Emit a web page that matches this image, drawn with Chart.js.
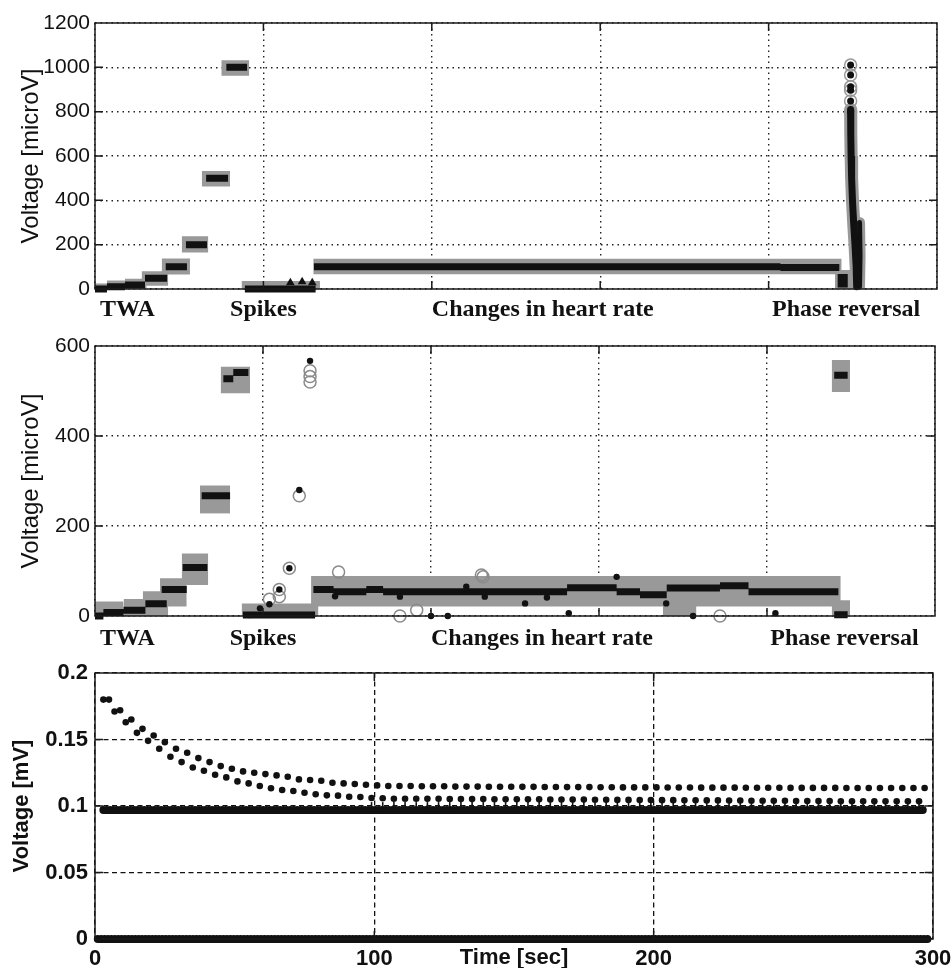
<!DOCTYPE html>
<html>
<head>
<meta charset="utf-8">
<script src="https://cdn.jsdelivr.net/npm/chart.js@4.4.1/dist/chart.umd.min.js"></script>
<style>
  html, body { margin: 0; padding: 0; background: #fff; }
  #wrap { position: relative; width: 952px; height: 968px; }
  .panel { position: absolute; left: 0; width: 952px; }
</style>
</head>
<body>
<div id="wrap">
  <div class="panel" style="top:0;height:325px"><canvas id="c1" width="952" height="325"></canvas></div>
  <div class="panel" style="top:325px;height:325px"><canvas id="c2" width="952" height="325"></canvas></div>
  <div class="panel" style="top:650px;height:318px"><canvas id="c3" width="952" height="318"></canvas></div>
</div>
<script>
// Section names under the two upper panels (x = record position, 5 blocks of 100)
const sectionLabels = ['TWA', 'Spikes', 'Changes in heart rate', 'Phase reversal'];

// ---- Panel 1: TWA estimate (microV). black = estimate, grey = spread
const p1EstStart = [0, 7.1, 17.8, 29.7, 42, 54, 66, 78, 89, 130, 407, 441, 441];
const p1EstEnd   = [7.1, 17.8, 29.7, 42.8, 54.6, 66.5, 79, 90.3, 131, 407, 442, 447, 447];
const p1EstLevel = [0, 10, 18, 48, 100, 200, 500, 1000, 0, 100, 97, 22, 52];

const p1SpreadStart = [0, 7, 17.8, 27.7, 39.6, 51.5, 63.4, 75, 87, 129.6, 439.4];
const p1SpreadEnd   = [7.1, 17.8, 30.7, 43.5, 56.4, 67.3, 80.2, 91.6, 133.6, 443.4, 450];
const p1SpreadLow   = [-15, -12, -5, 15, 65, 165, 462, 962, -12, 66, -5];
const p1SpreadHigh  = [25, 38, 46, 80, 138, 238, 532, 1032, 36, 136, 86];

// phase reversal streak in panel 1
const p1StreakX = [448.7, 448.8, 449, 449.3, 449.8, 450.5, 451.3, 452, 452.3];
const p1StreakY = [810, 700, 600, 500, 400, 300, 200, 100, 10];
const p1Streak2X = [454, 454.3, 454];
const p1Streak2Y = [300, 150, 10];
const p1PeakX = [448.7, 448.7, 448.7, 448.7, 448.7, 448.7];
const p1PeakY = [1010, 965, 912, 897, 848, 800];
const p1BumpX = [116, 123, 129];
const p1BumpY = [28, 33, 28];

// ---- Panel 2: second estimator (microV)
const p2EstStart = [0, 5, 17, 30, 39.7, 52.2, 63.5, 76.4, 82.3, 88, 130, 142, 161.5, 171.5, 281, 310.5, 324.4, 340.3, 372, 389, 440, 440];
const p2EstEnd   = [5, 17, 30, 42.7, 54.6, 66.9, 80.4, 82.3, 91.3, 131, 142, 161.5, 171.5, 281, 310.5, 324.4, 340.3, 372, 389, 442.5, 448, 448];
const p2EstLevel = [0, 8, 13, 27, 59, 108, 267, 527, 541, 2, 59, 54, 59, 54, 63, 54, 47, 62, 67, 54, 3, 535];

const p2SpreadStart = [0, 17, 28.4, 38.7, 51.6, 62.5, 74.8, 87.3, 128.6, 338, 438.5, 438.5];
const p2SpreadEnd   = [17, 30.8, 43.6, 54.6, 67.4, 80.4, 92.3, 133, 443.9, 358, 449.4, 449.4];
const p2SpreadLow   = [-5, -5, 0, 21, 69, 228, 495, -9, 21, -5, -9, 498];
const p2SpreadHigh  = [32, 38, 55, 84, 139, 290, 554, 28, 89, 30, 35, 569];

const p2OutlierX = [92, 98.2, 103.8, 109.7, 115.7, 121.6, 128, 142.9, 181.5, 200, 210, 221, 232, 256, 269, 282, 310.5, 340, 356, 405];
const p2OutlierY = [2, 17, 26, 59, 106, 280, 567, 44, 43, 0, 0, 65, 43, 28, 41, 6, 87, 28, 0, 6];
const p2RingX = [103.8, 109.7, 109.7, 115.7, 121.6, 128, 128, 128, 145, 181.5, 191.5, 230, 231, 372];
const p2RingY = [37, 59, 43, 106, 267, 545, 532, 520, 98, 0, 13, 91, 87, 0];

// ---- Panel 3: voltage (mV) vs time (sec)
const timeStep = 4;
const seriesAFirst = 5;
const seriesA = [0.180, 0.172, 0.165, 0.158, 0.153, 0.148, 0.143, 0.140, 0.136, 0.133, 0.130, 0.128,
  0.126, 0.125, 0.124, 0.123, 0.122, 0.120, 0.1195, 0.119, 0.1175, 0.117, 0.1165, 0.116, 0.1155, 0.115,
  0.115, 0.115, 0.1148, 0.1148, 0.1148, 0.1146, 0.1146, 0.1146, 0.1145, 0.1145, 0.1145, 0.1144,
  0.1144, 0.1143, 0.1143, 0.1142, 0.1142, 0.1142, 0.1141, 0.1141, 0.114, 0.114, 0.114, 0.114,
  0.1139, 0.1139, 0.1139, 0.1138, 0.1138, 0.1138, 0.1138, 0.1137, 0.1137, 0.1137, 0.1137, 0.1136,
  0.1136, 0.1136, 0.1136, 0.1136, 0.1135, 0.1135, 0.1135, 0.1135, 0.1135, 0.1135, 0.1135, 0.1135];
const seriesBFirst = 3;
const seriesB = [0.180, 0.171, 0.163, 0.155, 0.149, 0.143, 0.137, 0.133, 0.129, 0.1265, 0.1235, 0.1215,
  0.1185, 0.117, 0.115, 0.1133, 0.112, 0.1113, 0.110, 0.1088, 0.108, 0.1078, 0.107, 0.1068, 0.106, 0.1058, 0.1055,
  0.1055, 0.1055, 0.1054, 0.1054, 0.1053, 0.1053, 0.1052, 0.1052, 0.1051, 0.1051, 0.105, 0.105,
  0.105, 0.1049, 0.1049, 0.1048, 0.1048, 0.1047, 0.1047, 0.1046, 0.1046, 0.1045, 0.1045, 0.1044,
  0.1044, 0.1043, 0.1043, 0.1042, 0.1042, 0.1041, 0.1041, 0.104, 0.104, 0.1039, 0.1039, 0.1038,
  0.1038, 0.1037, 0.1037, 0.1036, 0.1036, 0.1036, 0.1035, 0.1035, 0.1035, 0.1035, 0.1035];
// short marks just above the 0.097 row, under the B dots from ~100 s on
const stemLevel = 0.1003;
const stemFromIndex = 24;
const flatRowLevels = [0, 0.097];
const flatRowStart = [1, 3];
const flatRowEnd = [298, 297];

const GREY = '#999999';
const INK = '#111111';
Chart.defaults.font.family = 'Liberation Sans';
Chart.defaults.color = INK;

function segmentData(starts, ends, levels) {
  const data = [];
  starts.forEach((s, i) => {
    data.push({ x: s, y: levels[i] }, { x: ends[i], y: levels[i] }, { x: ends[i], y: null });
  });
  return data;
}

function pairs(xs, ys) {
  return xs.map((x, i) => ({ x, y: ys[i] }));
}

function spreadDatasets(starts, ends, lows, highs) {
  return starts.map((s, i) => ({
    data: [{ x: s, y: highs[i] }, { x: ends[i], y: highs[i] }],
    fill: { value: lows[i] },
    backgroundColor: GREY,
    borderWidth: 0,
    pointRadius: 0,
    order: 3
  }));
}

// box around the plot + inward tick marks
const framePlugin = {
  id: 'frame',
  afterDraw(chart) {
    const { ctx, chartArea: a, scales } = chart;
    ctx.save();
    ctx.setLineDash([]);
    ctx.strokeStyle = '#1a1a1a';
    ctx.lineWidth = 1.5;
    ctx.strokeRect(a.left, a.top, a.right - a.left, a.bottom - a.top);
    const len = 8;
    ctx.beginPath();
    scales.y.ticks.forEach(t => {
      const py = scales.y.getPixelForValue(t.value);
      if (py <= a.top + 1 || py >= a.bottom - 1) return;
      ctx.moveTo(a.left, py); ctx.lineTo(a.left + len, py);
      ctx.moveTo(a.right, py); ctx.lineTo(a.right - len, py);
    });
    scales.x.ticks.forEach(t => {
      const px = scales.x.getPixelForValue(t.value);
      if (px <= a.left + 1 || px >= a.right - 1) return;
      ctx.moveTo(px, a.top); ctx.lineTo(px, a.top + len);
      ctx.moveTo(px, a.bottom); ctx.lineTo(px, a.bottom - len);
    });
    ctx.stroke();
    ctx.restore();
  }
};

// section names under the upper panels
const sectionPlugin = {
  id: 'sections',
  afterDraw(chart, args, opts) {
    if (!opts.labels) return;
    const { ctx, chartArea: a, scales } = chart;
    const anchors = [[3, 'left'], [100, 'center'], [200, 'left'], [402, 'left']];
    ctx.save();
    ctx.fillStyle = INK;
    ctx.font = 'bold 24px "Liberation Serif"';
    ctx.textBaseline = 'alphabetic';
    opts.labels.forEach((txt, i) => {
      ctx.textAlign = anchors[i][1];
      ctx.fillText(txt, scales.x.getPixelForValue(anchors[i][0]), a.bottom + opts.offset);
    });
    ctx.restore();
  }
};

function upperOptions(yMax, pad, labelOffset) {
  return {
    responsive: false,
    animation: false,
    events: [],
    devicePixelRatio: 1,
    layout: { padding: pad },
    plugins: {
      legend: { display: false },
      tooltip: { enabled: false },
      sections: { labels: sectionLabels, offset: labelOffset }
    },
    scales: {
      x: {
        type: 'linear', min: 0, max: 500,
        ticks: { stepSize: 100, display: false },
        grid: { color: '#222', lineWidth: 1.4, drawTicks: false },
        border: { display: false, dash: [1.5, 4] }
      },
      y: {
        min: 0, max: yMax,
        afterFit: s => { s.width = 95; },
        ticks: { stepSize: 200, padding: 5, font: { size: 21 }, color: INK, callback: v => String(v) },
        grid: { color: '#222', lineWidth: 1.4, drawTicks: false },
        border: { display: false, dash: [1.5, 4] },
        title: { display: true, text: 'Voltage [microV]', font: { size: 24 }, color: INK, padding: { top: 17, bottom: 0 } }
      }
    }
  };
}

function estimateDataset(starts, ends, levels, width) {
  return {
    data: segmentData(starts, ends, levels),
    borderColor: INK, borderWidth: width, borderCapStyle: 'butt',
    pointRadius: 0, spanGaps: false, clip: 8, order: 1
  };
}

// panel 1
new Chart(document.getElementById('c1'), {
  type: 'line',
  data: {
    datasets: [
      ...spreadDatasets(p1SpreadStart, p1SpreadEnd, p1SpreadLow, p1SpreadHigh),
      estimateDataset(p1EstStart, p1EstEnd, p1EstLevel, 7),
      { data: pairs(p1StreakX, p1StreakY), borderColor: GREY, borderWidth: 13, borderCapStyle: 'round', pointRadius: 0, order: 3 },
      { data: pairs(p1Streak2X, p1Streak2Y), borderColor: GREY, borderWidth: 11, borderCapStyle: 'round', pointRadius: 0, order: 3 },
      { data: pairs(p1StreakX, p1StreakY), borderColor: INK, borderWidth: 7, borderCapStyle: 'round', pointRadius: 0, clip: 6, order: 1 },
      { data: pairs(p1Streak2X, p1Streak2Y), borderColor: INK, borderWidth: 5, borderCapStyle: 'round', pointRadius: 0, clip: 6, order: 1 },
      { data: pairs(p1PeakX, p1PeakY), showLine: false, pointRadius: 6, pointBorderWidth: 1.5,
        pointBorderColor: GREY, pointBackgroundColor: 'rgba(0,0,0,0)', order: 2 },
      { data: pairs(p1PeakX, p1PeakY), showLine: false, pointRadius: 3.5, pointBorderWidth: 0,
        pointBackgroundColor: INK, order: 0 },
      { data: pairs(p1BumpX, p1BumpY), showLine: false, pointStyle: 'triangle', pointRadius: 5,
        pointBorderWidth: 0, pointBackgroundColor: INK, order: 0 }
    ]
  },
  options: upperOptions(1200, { top: 23, bottom: 36, left: 0, right: 15 }, 27),
  plugins: [framePlugin, sectionPlugin]
});

// panel 2
new Chart(document.getElementById('c2'), {
  type: 'line',
  data: {
    datasets: [
      ...spreadDatasets(p2SpreadStart, p2SpreadEnd, p2SpreadLow, p2SpreadHigh),
      estimateDataset(p2EstStart, p2EstEnd, p2EstLevel, 7),
      { data: pairs(p2RingX, p2RingY), showLine: false, pointRadius: 6, pointBorderWidth: 1.5,
        pointBorderColor: '#8a8a8a', pointBackgroundColor: 'rgba(0,0,0,0)', clip: 8, order: 2 },
      { data: pairs(p2OutlierX, p2OutlierY), showLine: false, pointRadius: 3.2, pointBorderWidth: 0,
        pointBackgroundColor: INK, clip: 8, order: 0 }
    ]
  },
  options: upperOptions(600, { top: 21, bottom: 34, left: 0, right: 17 }, 29),
  plugins: [framePlugin, sectionPlugin]
});

// panel 3
const boldTick = { size: 22, weight: 'bold' };
new Chart(document.getElementById('c3'), {
  type: 'line',
  data: {
    datasets: [
      ...flatRowLevels.map((lvl, i) => ({
        data: [{ x: flatRowStart[i], y: lvl }, { x: flatRowEnd[i], y: lvl }],
        borderColor: INK, borderWidth: 8, borderDash: [0, 3.4], borderCapStyle: 'round',
        pointRadius: 0, clip: 8, order: 1
      })),
      { data: seriesA.map((v, i) => ({ x: seriesAFirst + i * timeStep, y: v })), showLine: false,
        pointRadius: 3.3, pointBorderWidth: 0, pointBackgroundColor: INK, order: 0 },
      { data: seriesB.map((v, i) => ({ x: seriesBFirst + i * timeStep, y: v })), showLine: false,
        pointRadius: 3.3, pointBorderWidth: 0, pointBackgroundColor: INK, order: 0 },
      { data: seriesB.slice(stemFromIndex).map((v, i) => ({ x: seriesBFirst + (i + stemFromIndex) * timeStep, y: stemLevel })),
        showLine: false, pointStyle: 'line', rotation: 90, pointRadius: 3.5, pointBorderWidth: 1.6,
        pointBorderColor: INK, order: 0 }
    ]
  },
  options: {
    responsive: false,
    animation: false,
    events: [],
    devicePixelRatio: 1,
    layout: { padding: { top: 23, bottom: 0, left: 0, right: 19 } },
    plugins: { legend: { display: false }, tooltip: { enabled: false } },
    scales: {
      x: {
        type: 'linear', min: 0, max: 300,
        afterFit: s => { s.height = 29; s.paddingRight = 0; s.paddingLeft = 0; },
        ticks: { stepSize: 100, padding: 7, font: boldTick, color: INK },
        grid: { color: '#111', lineWidth: 1.3, drawTicks: false },
        border: { display: false, dash: [5, 3.5] },
        title: { display: true, text: 'Time [sec]', font: boldTick, color: INK, padding: { top: 0, bottom: -3 } }
      },
      y: {
        min: 0, max: 0.2,
        afterFit: s => { s.width = 95; },
        ticks: { stepSize: 0.05, padding: 7, font: boldTick, color: INK, callback: v => String(+v.toFixed(2)) },
        grid: { color: '#111', lineWidth: 1.3, drawTicks: false },
        border: { display: false, dash: [5, 3.5] },
        title: { display: true, text: 'Voltage [mV]', font: boldTick, color: INK, padding: { top: 9, bottom: 0 } }
      }
    }
  },
  plugins: [framePlugin]
});
</script>
</body>
</html>
